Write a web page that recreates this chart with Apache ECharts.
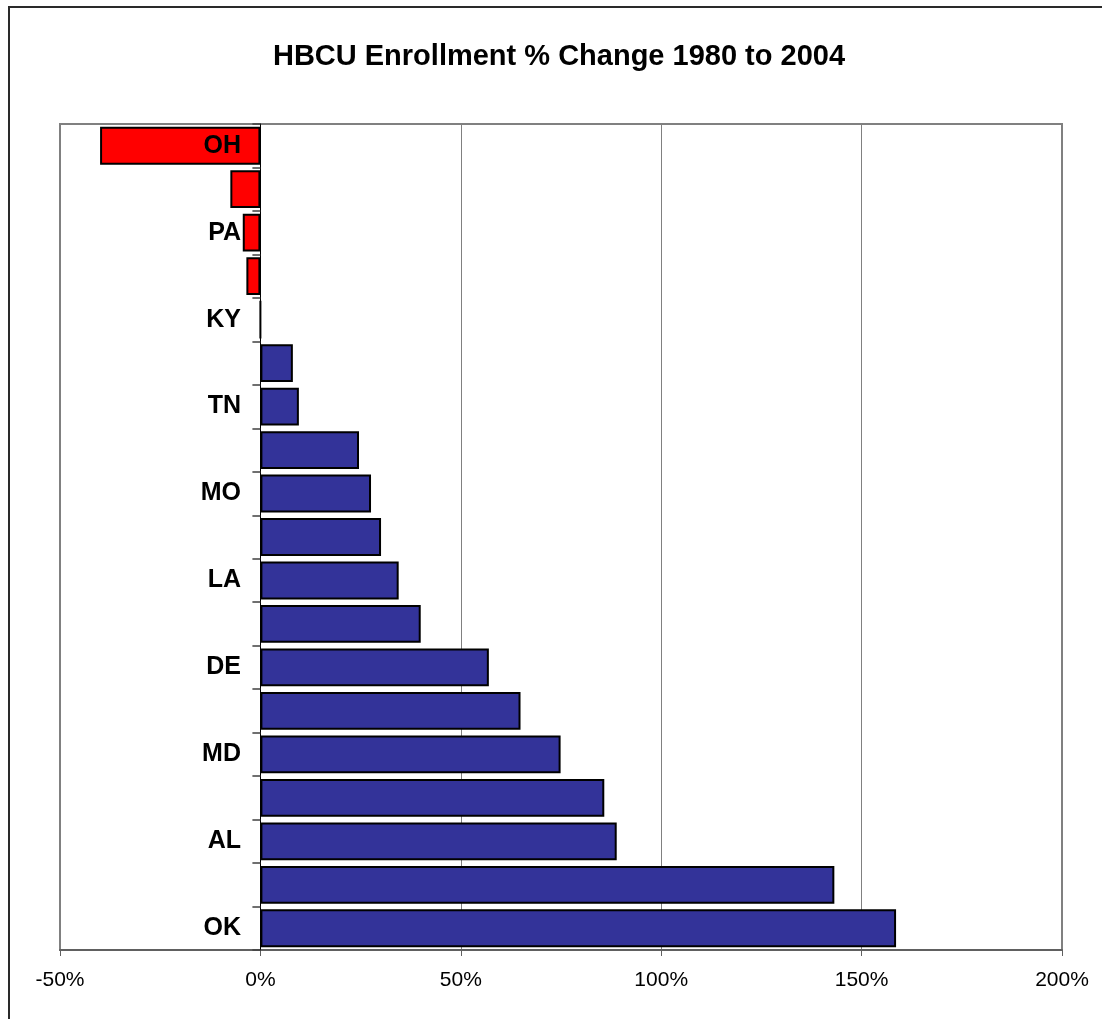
<!DOCTYPE html>
<html>
<head>
<meta charset="utf-8">
<script src="https://cdn.jsdelivr.net/npm/echarts@6/dist/echarts.min.js"></script>
<style>
html,body{margin:0;padding:0;background:#fff;}
#chart{width:1102px;height:1019px;}
</style>
</head>
<body>
<div id="chart"></div>
<script>
// Categories, top to bottom (only every other label is shown in the chart)
var states = ['OH','WV','PA','DC','KY','VA','TN','MS','MO','AR','LA','SC','DE','GA','MD','NC','AL','TX','OK'];
// % change 1980 to 2004
var pctChange = [-40, -7.5, -4.4, -3.5, 0, 8.1, 9.6, 24.6, 27.6, 30.1, 34.5, 40.0, 57.0, 64.9, 74.9, 85.8, 88.9, 143.2, 158.6];
var xTicks = { min: -50, max: 200, step: 50 };

var chart = echarts.init(document.getElementById('chart'));
chart.setOption({
  animation: false,
  backgroundColor: '#ffffff',
  title: {
    text: 'HBCU Enrollment % Change 1980 to 2004',
    left: 554,
    textAlign: 'center',
    top: 37,
    textStyle: { fontFamily: 'Liberation Sans, Arial, sans-serif', fontWeight: 'bold', fontSize: 29, color: '#000' }
  },
  graphic: [{
    type: 'rect',
    shape: { x: 9, y: 7, width: 1300, height: 1300 },
    style: { fill: 'none', stroke: '#2a2a2a', lineWidth: 2 },
    silent: true
  }],
  grid: {
    left: 60, right: 40, top: 124, bottom: 69,
    show: true, borderColor: '#808080', borderWidth: 2, backgroundColor: 'transparent'
  },
  xAxis: {
    type: 'value',
    min: xTicks.min, max: xTicks.max, interval: xTicks.step,
    axisLine: { show: true, onZero: false, lineStyle: { color: '#606060', width: 2 } },
    axisTick: { show: true, length: 6, lineStyle: { color: '#606060', width: 1 } },
    axisLabel: {
      formatter: '{value}%', margin: 20,
      fontFamily: 'Liberation Sans, Arial, sans-serif', fontSize: 21, color: '#000'
    },
    splitLine: { show: true, lineStyle: { color: '#808080', width: 1 } }
  },
  yAxis: {
    type: 'category',
    data: states,
    inverse: true,
    axisLine: { show: true, onZero: true, lineStyle: { color: '#000', width: 1 } },
    axisTick: { show: true, interval: 0, length: 8, lineStyle: { color: '#404040', width: 1.5 } },
    axisLabel: {
      interval: 1, margin: -181,
      fontFamily: 'Liberation Sans, Arial, sans-serif', fontWeight: 'bold', fontSize: 25, color: '#000'
    },
    splitLine: { show: false },
    z: 3
  },
  series: [{
    type: 'bar',
    data: pctChange.map(function (v) {
      return { value: v, itemStyle: { color: v < 0 ? '#FF0000' : '#333399' } };
    }),
    barCategoryGap: '13%',
    itemStyle: { borderColor: '#000', borderWidth: 2 },
    z: 1
  }]
});
</script>
</body>
</html>
